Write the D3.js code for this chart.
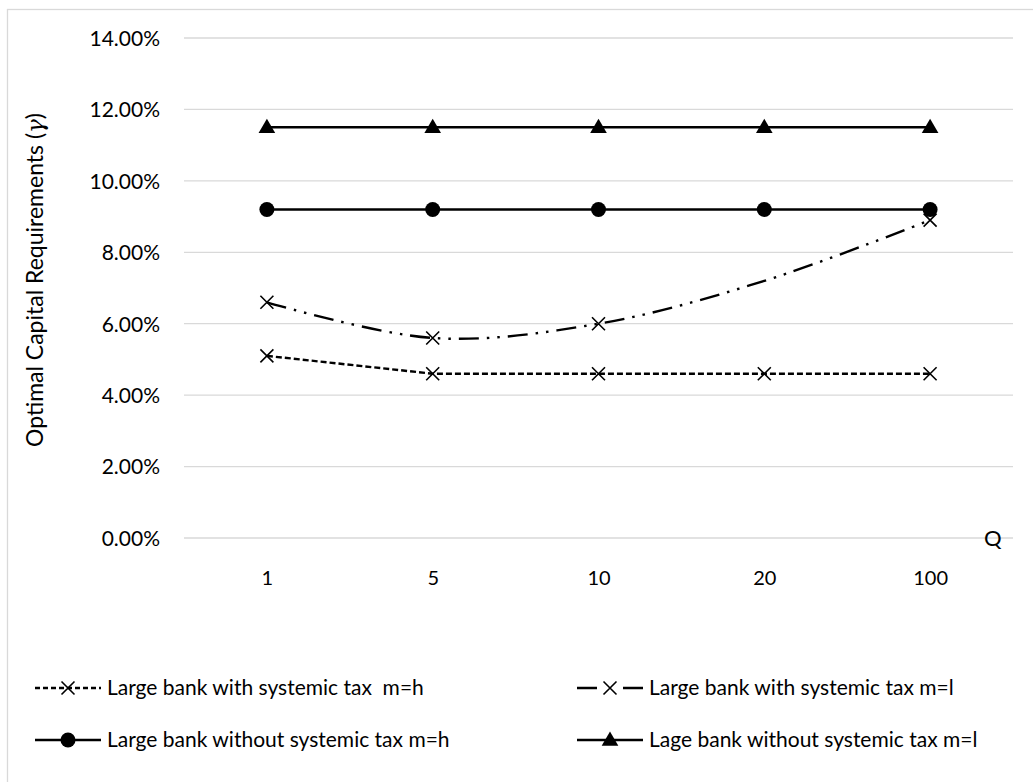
<!DOCTYPE html>
<html>
<head>
<meta charset="utf-8">
<script src="https://cdn.jsdelivr.net/npm/d3@7"></script>
<style>
  html, body { margin: 0; padding: 0; background: #fff; }
  svg { display: block; }
  text { font-family: Lato, "Open Sans", sans-serif; fill: #000; white-space: pre; }
</style>
</head>
<body>
<svg id="chart" width="1033" height="782"></svg>
<script>
// Q values on the horizontal axis
const categories = ["1", "5", "10", "20", "100"];
// Optimal capital requirement (%) for each case
const withTaxH = [5.1, 4.6, 4.6, 4.6, 4.6];
const withTaxL = [6.6, 5.6, 6.0, 7.2, 8.9];
const withoutTaxH = [9.2, 9.2, 9.2, 9.2, 9.2];
const withoutTaxL = [11.5, 11.5, 11.5, 11.5, 11.5];
// points of the m=l curve drawn without a marker
const unmarkedL = ["20"];
const yTicks = [0, 2, 4, 6, 8, 10, 12, 14];

const legendLabels = [
  "Large bank with systemic tax  m=h",
  "Large bank with systemic tax m=l",
  "Large bank without systemic tax m=h",
  "Lage bank without systemic tax m=l"
];

const svg = d3.select("#chart");

// chart frame
svg.append("rect")
  .attr("x", 7.5).attr("y", 9.5)
  .attr("width", 1040).attr("height", 800)
  .attr("fill", "none").attr("stroke", "#d9d9d9").attr("stroke-width", 1.3);

const plot = { left: 184, right: 1013, top: 38, bottom: 538 };

const x = d3.scalePoint().domain(categories)
  .range([plot.left, plot.right]).padding(0.5);
const y = d3.scaleLinear().domain([0, 14]).range([plot.bottom, plot.top]);

// gridlines
svg.append("g").selectAll("line").data(yTicks).join("line")
  .attr("x1", plot.left).attr("x2", plot.right)
  .attr("y1", d => y(d)).attr("y2", d => y(d))
  .attr("stroke", "#d9d9d9").attr("stroke-width", 1.3);

// y axis labels
const yAxis = d3.axisLeft(y).tickValues(yTicks)
  .tickFormat(d => d.toFixed(2) + "%").tickSize(0).tickPadding(0);
const gy = svg.append("g").attr("transform", `translate(160,0)`).call(yAxis);
gy.select(".domain").remove();
gy.selectAll("text").style("font-family", "Lato, sans-serif")
  .style("font-size", "21px").attr("dy", "0.35em");

// x axis labels
const xAxis = d3.axisBottom(x).tickSize(0).tickPadding(0);
const gx = svg.append("g").attr("transform", `translate(0,578)`).call(xAxis);
gx.select(".domain").remove();
gx.selectAll("text").style("font-family", "Lato, sans-serif")
  .style("font-size", "20px").attr("dy", "0.35em");

// axis titles
const yTitle = svg.append("text")
  .attr("transform", `translate(35,280) rotate(-90)`)
  .attr("text-anchor", "middle").attr("dy", "0.35em")
  .style("font-size", "23px");
yTitle.append("tspan").text("Optimal Capital Requirements (");
yTitle.append("tspan").style("font-family", "'DejaVu Serif', serif")
  .style("font-style", "italic").text("γ");
yTitle.append("tspan").text(")");

svg.append("text")
  .attr("x", 984).attr("y", plot.bottom).attr("dy", "0.35em")
  .style("font-size", "22px").text("Q");

// series styles
const series = [
  { values: withTaxH, dash: "6,3", curve: d3.curveLinear, marker: "x", skip: [] },
  { values: withTaxL, dash: "20,8,2.5,8,2.5,8", curve: d3.curveCatmullRom.alpha(0.5), marker: "x", skip: unmarkedL },
  { values: withoutTaxH, dash: null, curve: d3.curveLinear, marker: "circle", skip: [] },
  { values: withoutTaxL, dash: null, curve: d3.curveLinear, marker: "triangle", skip: [] }
];

function drawMarker(g, type, cx, cy) {
  if (type === "x") {
    const s = 6.5;
    g.append("path")
      .attr("d", `M${cx - s},${cy - s}L${cx + s},${cy + s}M${cx - s},${cy + s}L${cx + s},${cy - s}`)
      .attr("stroke", "#000").attr("stroke-width", 1.6).attr("fill", "none");
  } else if (type === "circle") {
    g.append("circle").attr("cx", cx).attr("cy", cy).attr("r", 7.5).attr("fill", "#000");
  } else {
    g.append("path")
      .attr("d", d3.symbol().type(d3.symbolTriangle).size(120)())
      .attr("transform", `translate(${cx},${cy + 1})`).attr("fill", "#000");
  }
}

series.forEach(s => {
  const pts = categories.map((c, i) => [x(c), y(s.values[i])]);
  svg.append("path")
    .attr("d", d3.line().curve(s.curve)(pts))
    .attr("fill", "none").attr("stroke", "#000").attr("stroke-width", 2.4)
    .attr("stroke-dasharray", s.dash);
  const g = svg.append("g");
  categories.forEach((c, i) => {
    if (!s.skip.includes(c)) drawMarker(g, s.marker, x(c), y(s.values[i]));
  });
});

// legend
const legendPos = [
  { lx: 35, ly: 688 }, { lx: 577, ly: 688 },
  { lx: 35, ly: 740 }, { lx: 577, ly: 740 }
];
const legendDash = ["5,3", "20,26,20", null, null];
series.forEach((s, i) => {
  const p = legendPos[i];
  const g = svg.append("g");
  g.append("line").attr("x1", p.lx).attr("x2", p.lx + 66)
    .attr("y1", p.ly).attr("y2", p.ly)
    .attr("stroke", "#000").attr("stroke-width", 2.4)
    .attr("stroke-dasharray", legendDash[i]);
  drawMarker(g, s.marker, p.lx + 33, p.ly);
  g.append("text").attr("x", p.lx + 72).attr("y", p.ly).attr("dy", "0.35em")
    .style("font-size", "21px").text(legendLabels[i]);
});
</script>
</body>
</html>
